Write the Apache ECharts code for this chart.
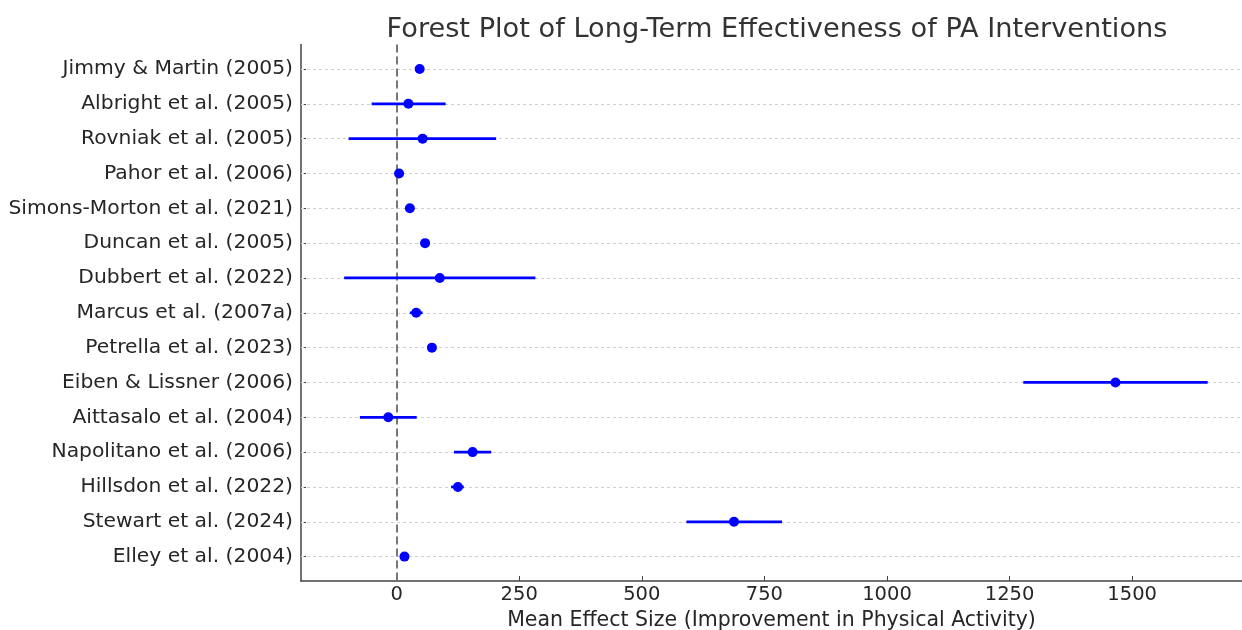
<!DOCTYPE html>
<html>
<head>
<meta charset="utf-8">
<title>Forest Plot</title>
<script src="https://cdn.jsdelivr.net/npm/echarts@6/dist/echarts.min.js"></script>
<style>
  html, body { margin: 0; padding: 0; background: #fff; }
  #chart { width: 1242px; height: 630px; }
</style>
</head>
<body>
<div id="chart"></div>
<script type="text/javascript">
// studies, top to bottom
var studies = [
    'Jimmy & Martin (2005)', 'Albright et al. (2005)', 'Rovniak et al. (2005)',
    'Pahor et al. (2006)', 'Simons-Morton et al. (2021)', 'Duncan et al. (2005)',
    'Dubbert et al. (2022)', 'Marcus et al. (2007a)', 'Petrella et al. (2023)',
    'Eiben & Lissner (2006)', 'Aittasalo et al. (2004)', 'Napolitano et al. (2006)',
    'Hillsdon et al. (2022)', 'Stewart et al. (2024)', 'Elley et al. (2004)'
];
var means = [47, 24, 53, 5, 27, 58, 88, 40, 72, 1466, -17, 155, 125, 688, 16];
var lower = [47, -51, -98, 5, 27, 58, -107, 27, 72, 1278, -75, 117, 111, 591, 16];
var upper = [47, 100, 203, 5, 27, 58, 283, 53, 72, 1654, 41, 193, 137, 786, 16];
var xTicks = [0, 250, 500, 750, 1000, 1250, 1500];

var rows = studies.map(function (s, i) { return i; });
var font = 'DejaVu Sans';

var chart = echarts.init(document.getElementById('chart'));
var option = {
    animation: false,
    title: {
        text: 'Forest Plot of Long-Term Effectiveness of PA Interventions',
        left: 772,
        top: 11,
        textAlign: 'center',
        textStyle: { fontFamily: font, fontSize: 27.2, fontWeight: 'normal', color: '#333' }
    },
    grid: { left: 301, right: 0, top: 44.6, bottom: 49, outerBoundsMode: 'none', containLabel: false },
    xAxis: {
        type: 'value',
        min: -195,
        max: 1724,
        name: 'Mean Effect Size (Improvement in Physical Activity)',
        nameLocation: 'middle',
        nameGap: 28,
        nameTextStyle: { fontFamily: font, fontSize: 20.5, color: '#262626' },
        axisLine: { show: true, onZero: false, lineStyle: { color: '#444', width: 1.5 } },
        axisTick: { show: true, inside: true, length: 5, customValues: xTicks, lineStyle: { color: '#444' } },
        axisLabel: {
            customValues: xTicks,
            margin: 4,
            fontFamily: font,
            fontSize: 19.5,
            color: '#262626',
            formatter: function (v) { return String(v); }
        },
        splitLine: { show: false }
    },
    yAxis: {
        type: 'value',
        inverse: true,
        min: -0.7,
        max: 14.7,
        axisLine: { show: true, onZero: false, lineStyle: { color: '#444', width: 1.5 } },
        axisTick: { show: true, inside: true, length: 5, customValues: rows, lineStyle: { color: '#444' } },
        axisLabel: {
            customValues: rows,
            margin: 8,
            fontFamily: font,
            fontSize: 20.3,
            color: '#262626',
            formatter: function (v) { return studies[v]; }
        },
        splitLine: { show: false }
    },
    series: [
        {
            // confidence intervals
            type: 'custom',
            z: 2,
            data: rows.map(function (i) { return [i, lower[i], upper[i]]; }),
            encode: { x: [1, 2], y: 0 },
            renderItem: function (params, api) {
                var lo = api.coord([api.value(1), api.value(0)]);
                var hi = api.coord([api.value(2), api.value(0)]);
                return {
                    type: 'line',
                    shape: { x1: lo[0], y1: lo[1], x2: hi[0], y2: hi[1] },
                    style: { stroke: '#0000ff', lineWidth: 2.7 }
                };
            },
            markLine: {
                silent: true,
                symbol: 'none',
                label: { show: false },
                z: 1,
                data: rows.map(function (i) {
                    return { yAxis: i, lineStyle: { color: '#cfcfcf', width: 1, type: [3, 3] } };
                }).concat([
                    { xAxis: 0, lineStyle: { color: '#777', width: 2, type: [8, 4] } }
                ])
            }
        },
        {
            type: 'scatter',
            z: 3,
            symbolSize: 10,
            itemStyle: { color: '#0000ff', opacity: 1 },
            data: rows.map(function (i) { return [means[i], i]; })
        }
    ]
};
chart.setOption(option);
</script>
</body>
</html>
